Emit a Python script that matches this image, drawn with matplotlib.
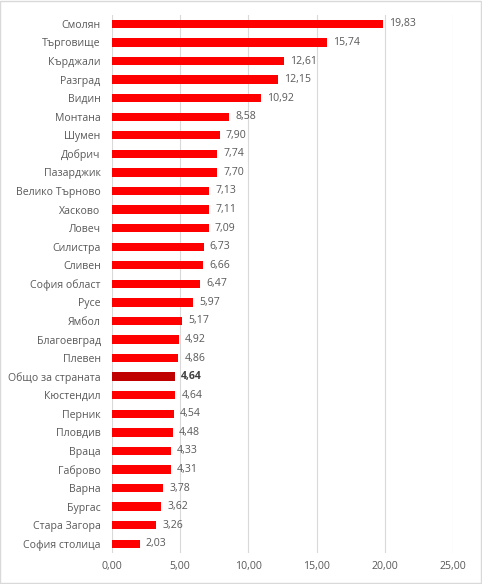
import matplotlib.pyplot as plt
from matplotlib.patches import Rectangle

regions = ["Смолян", "Търговище", "Кърджали", "Разград", "Видин", "Монтана",
           "Шумен", "Добрич", "Пазарджик", "Велико Търново", "Хасково", "Ловеч",
           "Силистра", "Сливен", "София област", "Русе", "Ямбол", "Благоевград",
           "Плевен", "Общо за страната", "Кюстендил", "Перник", "Пловдив",
           "Враца", "Габрово", "Варна", "Бургас", "Стара Загора", "София столица"]
values = [19.83, 15.74, 12.61, 12.15, 10.92, 8.58, 7.90, 7.74, 7.70, 7.13,
          7.11, 7.09, 6.73, 6.66, 6.47, 5.97, 5.17, 4.92, 4.86, 4.64, 4.64,
          4.54, 4.48, 4.33, 4.31, 3.78, 3.62, 3.26, 2.03]
x_ticks = [0, 5, 10, 15, 20, 25]

TOTAL = "Общо за страната"
TEXT = "#595959"
FS = 7.6

plt.rcParams['font.family'] = ['Open Sans', 'DejaVu Sans']

fig = plt.figure(figsize=(4.82, 5.84), dpi=100)
ax = fig.add_axes([0.232, 0.053, 0.708, 0.922])

colors = ["#C00000" if r == TOTAL else "#FF0000" for r in regions]
ypos = list(range(len(regions)))
ax.barh(ypos, values, height=0.45, color=colors, zorder=3)

for y, v, r in zip(ypos, values, regions):
    ax.text(v + 0.45, y, f"{v:.2f}".replace(".", ","), va="center", ha="left",
            fontsize=FS, color="#404040" if r == TOTAL else TEXT,
            fontweight="bold" if r == TOTAL else "normal")

ax.set_yticks(ypos)
ax.set_yticklabels(regions, fontsize=FS, color=TEXT)
ax.set_ylim(len(regions) - 0.5, -0.5)
ax.set_xlim(0, 25)
ax.set_xticks(x_ticks)
ax.set_xticklabels([f"{t:.2f}".replace(".", ",") for t in x_ticks],
                   fontsize=FS, color=TEXT)
ax.tick_params(axis="y", length=0, pad=8)
ax.tick_params(axis="x", length=0, pad=6)
ax.grid(axis="x", color="#D9D9D9", linewidth=0.8, zorder=0)
for s in ax.spines.values():
    s.set_visible(False)

fig.patches.append(Rectangle((0.001, 0.001), 0.997, 0.997, transform=fig.transFigure,
                             fill=False, edgecolor="#D9D9D9", linewidth=1))

fig.savefig("out.png", dpi=100)
